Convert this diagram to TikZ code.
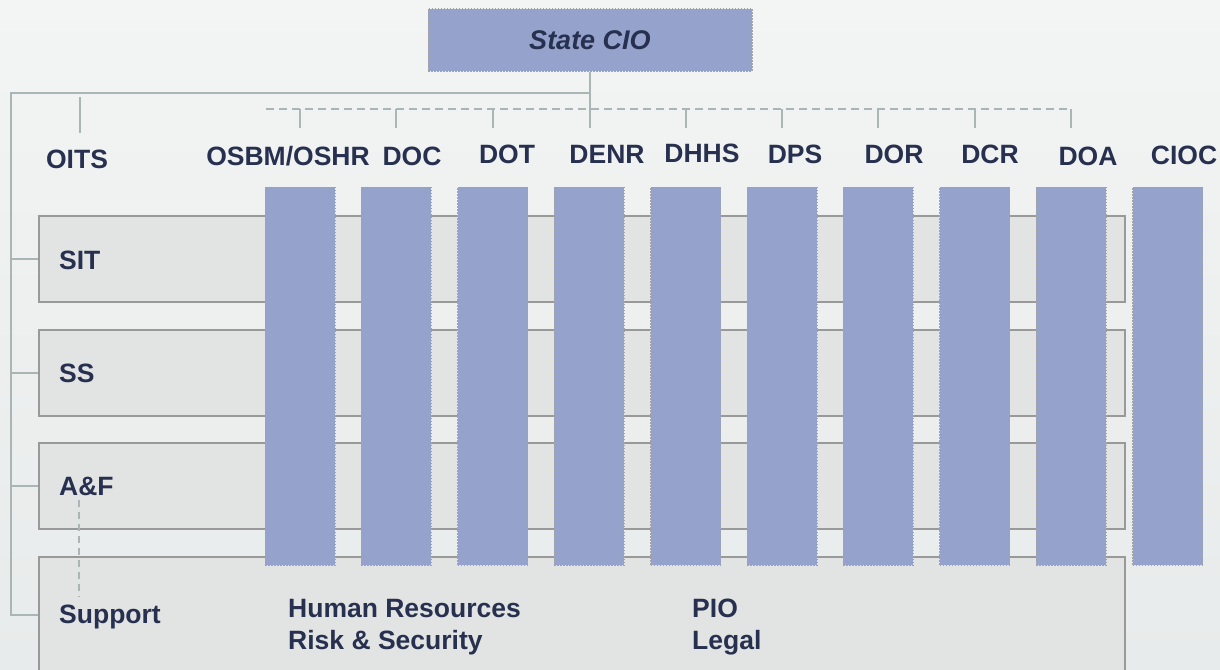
\documentclass[tikz,border=0pt]{standalone}
\usepackage{fontspec}
\setmainfont{Liberation Sans}
\usepackage{xcolor}

\definecolor{bgtop}{HTML}{F3F4F4}
\definecolor{bgbot}{HTML}{E8EBEB}
\definecolor{rowfill}{HTML}{E2E3E3}
\definecolor{rowline}{HTML}{999999}
\definecolor{boxblue}{HTML}{94A2CC}
\definecolor{boxline}{HTML}{A3A3A3}
\definecolor{ink}{HTML}{27304F}
\definecolor{wirecol}{HTML}{AAB5B5}

\tikzset{
	unit/.style = {rectangle, fill = boxblue, draw = boxline, line width = 1pt, dash pattern = on 1.5pt off 1.5pt, inner sep = 0pt, minimum width = 70pt, minimum height = 378pt},
	band/.style = {rectangle, fill = rowfill, draw = rowline, line width = 2pt, inner sep = 0pt, minimum width = 1086pt, minimum height = 86pt},
	lbl/.style = {text = ink, font = \bfseries\fontsize{26.5}{32}\selectfont, inner sep = 0pt},
	wire/.style = {draw = wirecol, line width = 2pt},
	dwire/.style = {wire, dash pattern = on 8pt off 5pt},
}

\begin{document}
\begin{tikzpicture}[x = 1pt, y = -1pt]

	\useasboundingbox (0, 0) rectangle (1220, 669);
	\shade[top color = bgtop, bottom color = bgbot] (0, 0) rectangle (1220, 669); % fondo

	\begin{scope}
		\clip (0, 0) rectangle (1220, 669);
		\node[band] (sit) at (582, 259) {};
		\node[band] (ss)  at (582, 372.5) {};
		\node[band] (af)  at (582, 486) {};
		\node[band, minimum height = 116pt] (sup) at (582, 615) {}; % sale por abajo
	\end{scope}

	\node[unit] (osbm) at (300.0, 376) {};
	\node[unit] (doc)  at (396.4, 376) {};
	\node[unit] (dot)  at (492.8, 376) {};
	\node[unit] (denr) at (589.2, 376) {};
	\node[unit] (dhhs) at (685.6, 376) {};
	\node[unit] (dps)  at (782.0, 376) {};
	\node[unit] (dor)  at (878.4, 376) {};
	\node[unit] (dcr)  at (974.8, 376) {};
	\node[unit] (doa)  at (1071.2, 376) {};
	\node[unit] (cioc) at (1167.6, 376) {};

	\node[unit, lbl, minimum width = 324pt, minimum height = 62pt, font = \bfseries\itshape\fontsize{27}{32}\selectfont] (cio) at (590, 40) {State CIO};

	\coordinate (spine) at (11, 93);
	\coordinate (tk) at (0, 128);
	\coordinate (dl) at (266, 109);
	\coordinate (ot) at (80, 97);
	\coordinate (ob) at (80, 133);
	\coordinate (da) at (79, 500);
	\coordinate (db) at (79, 597);

	\draw[wire] (cio.south) -- (cio.south |- tk);
	\draw[wire] (cio.south |- spine) -- (spine) -- (spine |- sup.west) -- (sup.west);
	\draw[wire] (spine |- sit.west) -- (sit.west);
	\draw[wire] (spine |- ss.west) -- (ss.west);
	\draw[wire] (spine |- af.west) -- (af.west);
	\draw[wire] (ot) -- (ob); % OITS

	\draw[dwire] (dl) -- (dl -| doa.north);
	\foreach \c in {osbm, doc, dot, dhhs, dps, dor, dcr, doa}
		\draw[wire] (\c.north |- dl) -- (\c.north |- tk);

	\draw[dwire, dash pattern = on 7pt off 5pt] (da) -- (db);

	\node[lbl, anchor = base] (loits) at (77, 168) {OITS};
	\node[lbl, anchor = base] (losbm) at (288, 165) {OSBM/OSHR};
	\node[lbl, anchor = base] (ldoc)  at (412, 165) {DOC};
	\node[lbl, anchor = base] (ldot)  at (507, 163) {DOT};
	\node[lbl, anchor = base] (ldenr) at (607, 163) {DENR};
	\node[lbl, anchor = base] (ldhhs) at (702, 162) {DHHS};
	\node[lbl, anchor = base] (ldps)  at (795, 163) {DPS};
	\node[lbl, anchor = base] (ldor)  at (894, 163) {DOR};
	\node[lbl, anchor = base] (ldcr)  at (990, 163) {DCR};
	\node[lbl, anchor = base] (ldoa)  at (1088, 165) {DOA};
	\node[lbl, anchor = base] (lcioc) at (1184, 164) {CIOC};

	\node[lbl, anchor = base west] (lsit) at (59, 269) {SIT};
	\node[lbl, anchor = base west] (lss)  at (59, 382) {SS};
	\node[lbl, anchor = base west] (laf)  at (59, 495) {A\&F};
	\node[lbl, anchor = base west] (lsup) at (59, 623) {Support};

	\node[lbl, anchor = base west, align = left] (lhr)  at (288, 649) {Human Resources\\Risk \& Security}; % base = ultima linea
	\node[lbl, anchor = base west, align = left] (lpio) at (692, 649) {PIO\\Legal};

\end{tikzpicture}
\end{document}
